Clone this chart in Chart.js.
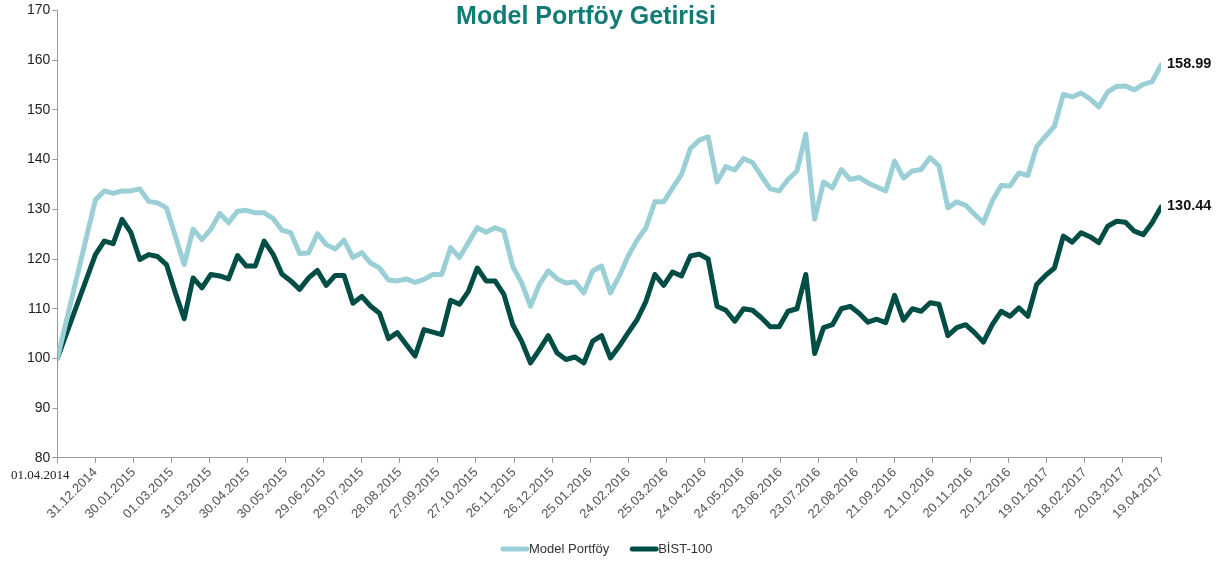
<!DOCTYPE html>
<html>
<head>
<meta charset="utf-8">
<script src="https://cdn.jsdelivr.net/npm/chart.js@4/dist/chart.umd.min.js"></script>
<style>
  html, body { margin: 0; padding: 0; background: #fff; }
  #wrap { width: 1223px; height: 567px; }
</style>
</head>
<body>
<div id="wrap"><canvas id="myChart" width="1223" height="567"></canvas></div>
<script>
const title = 'Model Portföy Getirisi';
const seriesNames = ['Model Portföy', 'BİST-100'];

// axis tick labels, one every 30 days (first one is the start date)
const tickLabels = [
  '01.04.2014', '31.12.2014', '30.01.2015', '01.03.2015', '31.03.2015', '30.04.2015',
  '30.05.2015', '29.06.2015', '29.07.2015', '28.08.2015', '27.09.2015', '27.10.2015',
  '26.11.2015', '26.12.2015', '25.01.2016', '24.02.2016', '25.03.2016', '24.04.2016',
  '24.05.2016', '23.06.2016', '23.07.2016', '22.08.2016', '21.09.2016', '21.10.2016',
  '20.11.2016', '20.12.2016', '19.01.2017', '18.02.2017', '20.03.2017', '19.04.2017'
];

// weekly values, first value is the start (=100)
const modelPortfoy = [
  100,
  131.9, 133.7, 133.2, 133.7, 133.7, 134.1, 131.6, 131.3, 130.3, 124.6,
  118.9, 126.0, 123.9, 126.0, 129.2, 127.3, 129.6, 129.8, 129.3, 129.3,
  128.2, 125.8, 125.3, 121.1, 121.2, 125.1, 122.9, 122.0, 123.8, 120.3,
  121.3, 119.2, 118.2, 115.8, 115.6, 116.0, 115.3, 115.9, 116.9, 116.9,
  122.3, 120.3, 123.3, 126.3, 125.4, 126.3, 125.6, 118.5, 115.2, 110.5,
  114.9, 117.6, 116.0, 115.2, 115.4, 113.2, 117.6, 118.6, 113.2, 116.6,
  120.6, 123.8, 126.3, 131.5, 131.5, 134.3, 137.0, 142.2, 143.9, 144.6,
  135.5, 138.6, 137.9, 140.2, 139.4, 136.7, 134.1, 133.7, 136.0, 137.7,
  145.1, 128.0, 135.5, 134.3, 138.0, 136.0, 136.4, 135.3, 134.5, 133.7,
  139.7, 136.3, 137.7, 138.0, 140.4, 138.7, 130.3, 131.5, 130.8, 129.0,
  127.3, 131.7, 134.8, 134.7, 137.3, 136.8, 142.6, 144.7, 146.7, 153.1,
  152.6, 153.4, 152.2, 150.6, 153.6, 154.7, 154.8, 154.0, 155.1, 155.7,
  158.99
];

const bist100 = [
  100,
  120.9, 123.6, 123.1, 128.0, 125.3, 119.9, 120.9, 120.5, 118.9, 113.2,
  108.0, 116.2, 114.2, 116.9, 116.6, 116.0, 120.7, 118.6, 118.6, 123.6,
  121.0, 117.0, 115.6, 113.9, 116.2, 117.7, 114.7, 116.7, 116.7, 111.1,
  112.5, 110.5, 109.1, 104.0, 105.2, 102.8, 100.5, 105.8, 105.3, 104.8,
  111.7, 110.9, 113.5, 118.2, 115.6, 115.6, 112.9, 106.8, 103.5, 99.1,
  101.8, 104.6, 101.1, 99.8, 100.3, 99.1, 103.5, 104.6, 100.1, 102.5,
  105.2, 107.8, 111.5, 116.9, 114.7, 117.4, 116.6, 120.6, 121.0, 120.0,
  110.5, 109.7, 107.5, 110.0, 109.7, 108.2, 106.4, 106.4, 109.5, 110.0,
  116.9, 101.0, 106.2, 106.8, 110.0, 110.5, 109.1, 107.3, 107.9, 107.2,
  112.7, 107.7, 110.0, 109.5, 111.2, 110.9, 104.6, 106.2, 106.8, 105.2,
  103.3, 106.8, 109.5, 108.5, 110.2, 108.5, 114.9, 116.7, 118.2, 124.6,
  123.4, 125.3, 124.5, 123.3, 126.6, 127.6, 127.4, 125.6, 124.9, 127.3,
  130.44
];

const lightColor = '#9bcfd6';
const darkColor = '#004d45';
const font = '"Liberation Sans", Arial, sans-serif';

// day offsets: start, then weekly from the 2nd tick
function dayOf(i) { return i === 0 ? 0 : 30 + 7 * (i - 1); }
const toPoints = arr => arr.map((v, i) => ({ x: dayOf(i), y: v }));

const overlay = {
  id: 'overlay',
  afterDraw(chart) {
    const ctx = chart.ctx;
    const area = chart.chartArea;
    ctx.save();
    // title
    ctx.fillStyle = '#117b76';
    ctx.font = 'bold 25px ' + font;
    ctx.textAlign = 'center';
    ctx.textBaseline = 'middle';
    ctx.fillText(title, 586, 17);

    // end values
    ctx.fillStyle = '#111';
    ctx.font = 'bold 14.5px ' + font;
    ctx.textAlign = 'left';
    chart.data.datasets.forEach((ds, di) => {
      const meta = chart.getDatasetMeta(di);
      const last = meta.data[meta.data.length - 1];
      ctx.fillText(ds.data[ds.data.length - 1].y.toFixed(2), last.x + 6, last.y - 1);
    });

    // first date label, horizontal
    const xs = chart.scales.x;
    ctx.fillStyle = '#222';
    ctx.font = '13px "Liberation Serif", "Times New Roman", serif';
    ctx.textAlign = 'center';
    ctx.fillText(tickLabels[0], xs.getPixelForValue(0) - 17, area.bottom + 18);

    // legend
    let lx = 500;
    const ly = 549;
    ctx.font = '13px ' + font;
    ctx.lineWidth = 5;
    ctx.lineCap = 'round';
    chart.data.datasets.forEach(ds => {
      ctx.strokeStyle = ds.borderColor;
      ctx.beginPath();
      ctx.moveTo(lx + 3, ly);
      ctx.lineTo(lx + 27, ly);
      ctx.stroke();
      ctx.fillStyle = '#333';
      ctx.textAlign = 'left';
      ctx.fillText(ds.label, lx + 29, ly);
      lx += 29 + ctx.measureText(ds.label).width + 20;
    });
    ctx.restore();
  }
};

new Chart(document.getElementById('myChart'), {
  type: 'line',
  data: {
    datasets: [
      { label: seriesNames[0], data: toPoints(modelPortfoy), borderColor: lightColor, backgroundColor: lightColor },
      { label: seriesNames[1], data: toPoints(bist100), borderColor: darkColor, backgroundColor: darkColor }
    ]
  },
  options: {
    responsive: false,
    animation: false,
    elements: {
      line: { borderWidth: 5, tension: 0, borderJoinStyle: 'round', borderCapStyle: 'round' },
      point: { radius: 0 }
    },
    layout: { padding: { top: 3, right: 62, left: 25, bottom: 43 } },
    scales: {
      x: {
        type: 'linear',
        min: 0,
        max: 30 * (tickLabels.length - 1),
        afterBuildTicks: s => { s.ticks = tickLabels.map((t, i) => ({ value: 30 * i })); },
        ticks: {
          autoSkip: false,
          minRotation: 45,
          maxRotation: 45,
          color: '#555',
          padding: 2,
          font: { family: font, size: 13 },
          callback: (v, i) => i === 0 ? '' : tickLabels[i]
        },
        grid: { drawOnChartArea: false, drawTicks: true, tickLength: 5, color: '#999' },
        border: { color: '#999' }
      },
      y: {
        min: 80,
        max: 170,
        ticks: {
          stepSize: 10,
          color: '#222',
          padding: 2,
          font: { family: font, size: 14 }
        },
        grid: { drawOnChartArea: false, drawTicks: true, tickLength: 5, color: '#999' },
        border: { color: '#999' }
      }
    },
    plugins: {
      title: { display: false },
      tooltip: { enabled: false },
      legend: { display: false }
    }
  },
  plugins: [overlay]
});
</script>
</body>
</html>
